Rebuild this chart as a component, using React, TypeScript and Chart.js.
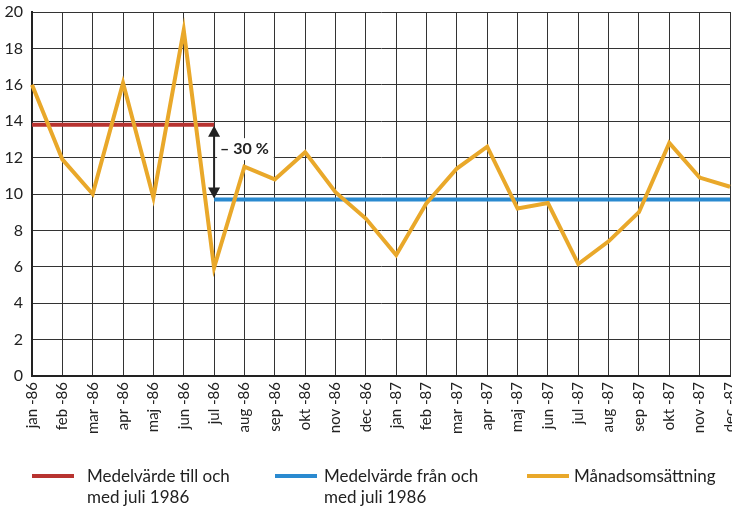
import React, { useEffect, useRef } from "react";
import { Chart, registerables } from "chart.js";

Chart.register(...registerables);

const months: string[] = [
  "jan -86", "feb -86", "mar -86", "apr -86", "maj -86", "jun -86",
  "jul -86", "aug -86", "sep -86", "okt -86", "nov -86", "dec -86",
  "jan -87", "feb -87", "mar -87", "apr -87", "maj -87", "jun -87",
  "jul -87", "aug -87", "sep -87", "okt -87", "nov -87", "dec -87",
];

const monthlySales: number[] = [
  16.0, 11.9, 10.0, 16.1, 9.8, 19.0,
  5.95, 11.5, 10.8, 12.3, 10.1, 8.65,
  6.65, 9.5, 11.4, 12.6, 9.2, 9.5,
  6.15, 7.4, 9.0, 12.8, 10.9, 10.4,
];

const meanBefore = 13.8;
const meanAfter = 9.7;
const splitIndex = 6; // jul -86

const beforeLine: (number | null)[] = months.map((_, i) => (i <= splitIndex ? meanBefore : null));
const afterLine: (number | null)[] = months.map((_, i) => (i >= splitIndex ? meanAfter : null));

const yTicks: number[] = [0, 2, 4, 6, 8, 10, 12, 14, 16, 18, 20];
const changeLabel = "– 30 %";

const legendItems = [
  { color: "#b83330", lines: ["Medelvärde till och", "med juli 1986"], left: 32, textLeft: 87 },
  { color: "#2a8ad0", lines: ["Medelvärde från och", "med juli 1986"], left: 275, textLeft: 324 },
  { color: "#e9a82a", lines: ["Månadsomsättning"], left: 527, textLeft: 574 },
];

const FONT = "Lato, 'Noto Sans', sans-serif";

const arrowPlugin = {
  id: "arrowPlugin",
  afterDatasetsDraw(chart: any) {
    const ctx = chart.ctx;
    const x = chart.scales.x.getPixelForValue(splitIndex);
    const yTop = chart.scales.y.getPixelForValue(meanBefore);
    const yBot = chart.scales.y.getPixelForValue(meanAfter);
    ctx.save();
    ctx.font = `bold 16px ${FONT}`;
    const tw = ctx.measureText(changeLabel).width;
    const ty = (yTop + yBot) / 2 - 13;
    ctx.fillStyle = "#ffffff";
    ctx.fillRect(x + 3, ty - 11, tw + 8, 22);
    ctx.fillStyle = "#222222";
    ctx.textBaseline = "middle";
    ctx.textAlign = "left";
    ctx.fillText(changeLabel, x + 6, ty);
    ctx.strokeStyle = "#222222";
    ctx.fillStyle = "#222222";
    ctx.lineWidth = 2;
    ctx.beginPath();
    ctx.moveTo(x, yTop + 8);
    ctx.lineTo(x, yBot - 8);
    ctx.stroke();
    ctx.beginPath();
    ctx.moveTo(x, yTop + 1);
    ctx.lineTo(x - 6, yTop + 12);
    ctx.lineTo(x + 6, yTop + 12);
    ctx.closePath();
    ctx.fill();
    ctx.beginPath();
    ctx.moveTo(x, yBot - 1);
    ctx.lineTo(x - 6, yBot - 12);
    ctx.lineTo(x + 6, yBot - 12);
    ctx.closePath();
    ctx.fill();
    ctx.restore();
  },
};

export default function App() {
  const canvasRef = useRef<HTMLCanvasElement | null>(null);

  useEffect(() => {
    document.body.style.margin = "0";
    const canvas = canvasRef.current;
    if (!canvas) return;
    const chart = new Chart(canvas, {
      type: "line",
      data: {
        labels: months,
        datasets: [
          {
            label: "Månadsomsättning",
            data: monthlySales,
            borderColor: "#e9a82a",
            borderWidth: 4,
            pointRadius: 0,
            tension: 0,
            order: 0,
          },
          {
            label: "Medelvärde till och med juli 1986",
            data: beforeLine,
            borderColor: "#b83330",
            borderWidth: 4,
            pointRadius: 0,
            spanGaps: false,
            order: 1,
          },
          {
            label: "Medelvärde från och med juli 1986",
            data: afterLine,
            borderColor: "#2a8ad0",
            borderWidth: 4,
            pointRadius: 0,
            spanGaps: false,
            order: 1,
          },
        ],
      },
      options: {
        animation: false,
        responsive: false,
        maintainAspectRatio: false,
        layout: { padding: { top: 12, right: 2, left: 0, bottom: 0 } },
        plugins: {
          legend: { display: false },
          tooltip: { enabled: false },
        },
        scales: {
          x: {
            offset: false,
            grid: { color: "#333333", lineWidth: 1, drawTicks: false },
            border: { color: "#222", width: 2 },
            ticks: {
              autoSkip: false,
              minRotation: 90,
              maxRotation: 90,
              padding: 6,
              color: "#222",
              font: { family: FONT, size: 15 },
            },
            afterFit(scale: any) {
              scale.height = 131;
              scale.paddingLeft = 0;
              scale.paddingRight = 0;
            },
          },
          y: {
            min: 0,
            max: 20,
            afterBuildTicks(scale: any) {
              scale.ticks = yTicks.map((v) => ({ value: v }));
            },
            grid: { color: "#333333", lineWidth: 1, drawTicks: false },
            border: { color: "#222", width: 2 },
            ticks: {
              padding: 9,
              color: "#222",
              font: { family: FONT, size: 16 },
            },
            afterFit(scale: any) {
              scale.width = 32;
              scale.paddingTop = 0;
              scale.paddingBottom = 0;
            },
          },
        },
      },
      plugins: [arrowPlugin],
    } as any);
    return () => chart.destroy();
  }, []);

  return (
    <div style={{ position: "relative", width: 732, height: 507, background: "#fff", overflow: "hidden" }}>
      <canvas ref={canvasRef} width={732} height={507} style={{ position: "absolute", left: 0, top: 0 }} />
      {legendItems.map((item, i) => (
        <React.Fragment key={i}>
          <div
            style={{
              position: "absolute",
              left: item.left,
              top: 474,
              width: 42,
              height: 4,
              background: item.color,
            }}
          />
          <div
            style={{
              position: "absolute",
              left: item.textLeft,
              top: 465,
              fontFamily: FONT,
              fontSize: 17,
              lineHeight: "21px",
              color: "#222",
              whiteSpace: "nowrap",
            }}
          >
            {item.lines.map((l, j) => (
              <div key={j}>{l}</div>
            ))}
          </div>
        </React.Fragment>
      ))}
    </div>
  );
}
